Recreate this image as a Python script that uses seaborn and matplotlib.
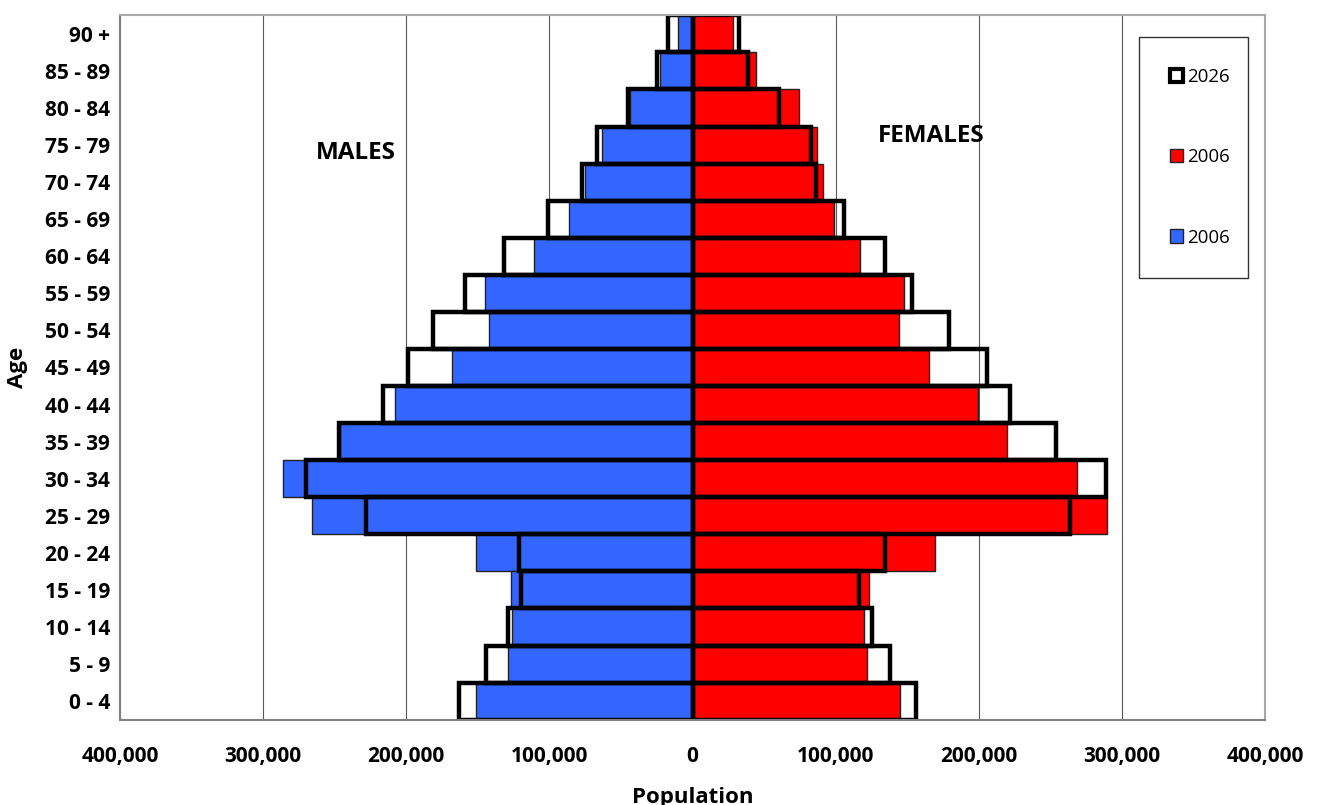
import matplotlib
matplotlib.use("Agg")
import matplotlib.pyplot as plt
from matplotlib.patches import Patch
from matplotlib.ticker import FuncFormatter
import seaborn as sns
import pandas as pd

# Age groups, oldest at the top
ages = ["90 +", "85 - 89", "80 - 84", "75 - 79", "70 - 74", "65 - 69", "60 - 64",
        "55 - 59", "50 - 54", "45 - 49", "40 - 44", "35 - 39", "30 - 34", "25 - 29",
        "20 - 24", "15 - 19", "10 - 14", "5 - 9", "0 - 4"]

male_2006 = [10000, 23000, 44000, 63000, 75000, 86000, 111000, 145000, 142000, 168000,
             208000, 246000, 286000, 266000, 151000, 127000, 126000, 129000, 151000]
male_2026 = [17000, 25000, 45000, 67000, 77000, 101000, 132000, 159000, 181000, 199000,
             216000, 247000, 270000, 228000, 121000, 120000, 129000, 144000, 163000]
female_2006 = [28500, 44000, 74000, 87000, 91000, 99000, 117000, 148000, 144000, 165000,
               199000, 219500, 268500, 289500, 169000, 123000, 120000, 122000, 145000]
female_2026 = [32500, 39000, 60500, 82500, 86000, 105500, 134500, 153500, 179000, 205500,
               222000, 253500, 289000, 263500, 134500, 116500, 125500, 138000, 156000]

year_labels = ["2026", "2006", "2006"]
x_ticks = [-400000, -300000, -200000, -100000, 0, 100000, 200000, 300000, 400000]

sns.set_theme(style="white")
plt.rcParams["font.family"] = ["Open Sans", "DejaVu Sans"]
plt.rcParams["text.color"] = "black"
plt.rcParams["axes.labelcolor"] = "black"
plt.rcParams["xtick.color"] = "black"
plt.rcParams["ytick.color"] = "black"

fig = plt.figure(figsize=(13.18, 8.05), dpi=100)
ax = fig.add_axes([0.091, 0.106, 0.869, 0.875])

df = pd.DataFrame({
    "age": ages,
    "m06": [-v for v in male_2006],
    "m26": [-v for v in male_2026],
    "f06": female_2006,
    "f26": female_2026,
})

blue = "#3366FF"
red = "#FF0000"

# 2006 populations as filled bars
sns.barplot(data=df, x="m06", y="age", order=ages, orient="h", color=blue,
            saturation=1, width=1.0, edgecolor="#222222", linewidth=1.0,
            errorbar=None, ax=ax)
sns.barplot(data=df, x="f06", y="age", order=ages, orient="h", color=red,
            saturation=1, width=1.0, edgecolor="#222222", linewidth=1.0,
            errorbar=None, ax=ax)
# 2026 projections as heavy outlines
for col in ["m26", "f26"]:
    sns.barplot(data=df, x=col, y="age", order=ages, orient="h", color="black",
                saturation=1, width=1.0, fill=False, linewidth=3.2,
                errorbar=None, ax=ax)

ax.set_xlim(-400000, 400000)
ax.set_xticks(x_ticks)
ax.xaxis.set_major_formatter(FuncFormatter(lambda v, p: f"{abs(int(v)):,}"))
ax.xaxis.grid(True, color="#5a5a5a", linewidth=0.8)
ax.yaxis.grid(False)
ax.set_axisbelow(True)

for side in ["top", "right"]:
    ax.spines[side].set_color("#a8a8a8")
    ax.spines[side].set_linewidth(1.5)
for side in ["left", "bottom"]:
    ax.spines[side].set_color("#808080")
    ax.spines[side].set_linewidth(1.5)

ax.tick_params(axis="x", direction="out", length=6, width=1.2, color="#808080",
               labelcolor="black", pad=13, labelsize=15)
ax.tick_params(axis="y", length=0, pad=7, labelsize=15, labelcolor="black")
for lab in ax.get_xticklabels() + ax.get_yticklabels():
    lab.set_fontweight("bold")

ax.set_xlabel("Population", fontsize=16, fontweight="bold", labelpad=14)
ax.set_ylabel("Age", fontsize=16, fontweight="bold", labelpad=12)

ax.text(-235000, 3.22, "MALES", ha="center", va="center", fontsize=17.5,
        fontweight="bold")
ax.text(166500, 2.76, "FEMALES", ha="center", va="center", fontsize=17.5,
        fontweight="bold")

handles = [
    Patch(facecolor="white", edgecolor="black", linewidth=3),
    Patch(facecolor=red, edgecolor="#222222", linewidth=1),
    Patch(facecolor=blue, edgecolor="#222222", linewidth=1),
]
leg = ax.legend(handles, year_labels, loc="upper left", mode="expand",
                bbox_to_anchor=(0.8895, 0.5, 0.0952, 0.469), frameon=True,
                fancybox=False, fontsize=13.5, labelspacing=3.32,
                handlelength=0.72, handleheight=0.72, handletextpad=0.2,
                borderpad=1.65, borderaxespad=0)
leg.get_frame().set_edgecolor("black")
leg.get_frame().set_linewidth(1.0)

fig.savefig("out.png", dpi=100, facecolor="white")
